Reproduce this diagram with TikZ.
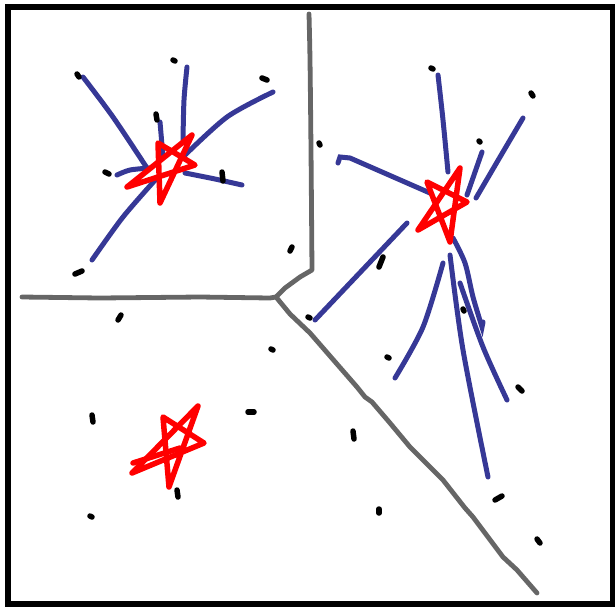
\documentclass[tikz,border=0pt]{standalone}
\usetikzlibrary{calc}
\definecolor{pen}{HTML}{363896}
\definecolor{wall}{HTML}{666666}
\definecolor{hot}{HTML}{FF0000}
\tikzset{
  frame/.style={black, line width=5.5pt},
  border/.style={wall, line width=4.8pt, line join=round},
  ray/.style={pen, line width=5pt},
  starline/.style={hot, line width=5.5pt, line join=round},
  speck/.style={black, line width=5.5pt}
}
\begin{document}
\begin{tikzpicture}[x=1pt, y=-1pt, line cap=round]
  \useasboundingbox (0,0) rectangle (615,606);
  % frame
  \draw[frame] (8,7) rectangle (613,604);
  % cell borders
  \draw[border] plot[smooth] coordinates {(309,14) (310,60) (311,150) (312,270)} -- (300,277) -- (285,288) -- (276,297);
  \draw[border] (22,297) -- (100,298) -- (200,297) -- (270,298) -- (276,297);
  \draw[border] (276,297) -- (290,314) -- (310,333) -- (330,356) -- (357,387) -- (365,397) -- (372,402) -- (390,423) -- (410,447) -- (443,480) -- (465,508) -- (473,517) -- (503,557) -- (517,570) -- (537,593);
  % rays, upper left
  \draw[ray] plot[smooth] coordinates {(83,77) (113,117) (147,168)};
  \draw[ray] plot[smooth] coordinates {(187,67) (184,100) (183,140)};
  \draw[ray] plot[smooth] coordinates {(273,92) (227,117) (183,157)};
  \draw[ray] (160,122) -- (163,157);
  \draw[ray] plot[smooth] coordinates {(117,175) (130,170) (150,168)};
  \draw[ray] plot[smooth] coordinates {(185,173) (215,179) (242,185)};
  \draw[ray] plot[smooth] coordinates {(92,260) (123,217) (157,178)};
  % rays, upper right
  \draw[ray] plot[smooth] coordinates {(438,75) (443,120) (448,172)};
  \draw[ray] plot[smooth] coordinates {(523,118) (500,157) (476,198)};
  \draw[ray] (482,152) -- (467,195);
  \draw[ray] (338,163) -- (340,157) -- (350,158) -- (430,193);
  \draw[ray] (407,223) -- (315,320);
  \draw[ray] plot[smooth] coordinates {(443,263) (423,327) (395,378)};
  \draw[ray] plot[smooth] coordinates {(453,238) (465,263) (473,297) (482,327)} -- (483,322);
  \draw[ray] plot[smooth] coordinates {(450,255) (463,350) (488,477)};
  \draw[ray] plot[smooth] coordinates {(460,283) (483,347) (507,400)};
  % stars
  \draw[starline] (158,143) -- (160,203) -- (192,135) -- (127,187) -- (195,165) -- cycle;
  \draw[starline] (460,168) -- (450,242) -- (427,182) -- (467,202) -- (418,230) -- cycle;
  \draw[starline] (163,417) -- (169,487) -- (198,406) -- (132,473) -- (204,443) -- cycle;
  \draw[starline] (133,463) -- (180,448);
  % specks
  \foreach \a/\b in {{77,74}/{79,77}, {173,60}/{175,61}, {262,78}/{267,80}, {156,114}/{157,120},
      {105,172}/{109,174}, {222,172}/{223,181}, {75,274}/{82,271}, {431,68}/{433,69},
      {531,93}/{533,96}, {319,143}/{320,145}, {479,141}/{480,142}, {379,267}/{383,257},
      {290,251}/{292,247}, {308,317}/{310,318}, {463,309}/{464,311}, {118,320}/{121,315},
      {271,349}/{273,350}, {387,357}/{389,358}, {518,387}/{522,391}, {92,415}/{93,422},
      {248,412}/{254,412}, {353,431}/{354,439}, {177,490}/{178,497}, {90,516}/{92,517},
      {379,509}/{379,513}, {495,500}/{502,496}, {537,539}/{540,543}}
    \draw[speck] (\a) -- (\b);
\end{tikzpicture}
\end{document}
